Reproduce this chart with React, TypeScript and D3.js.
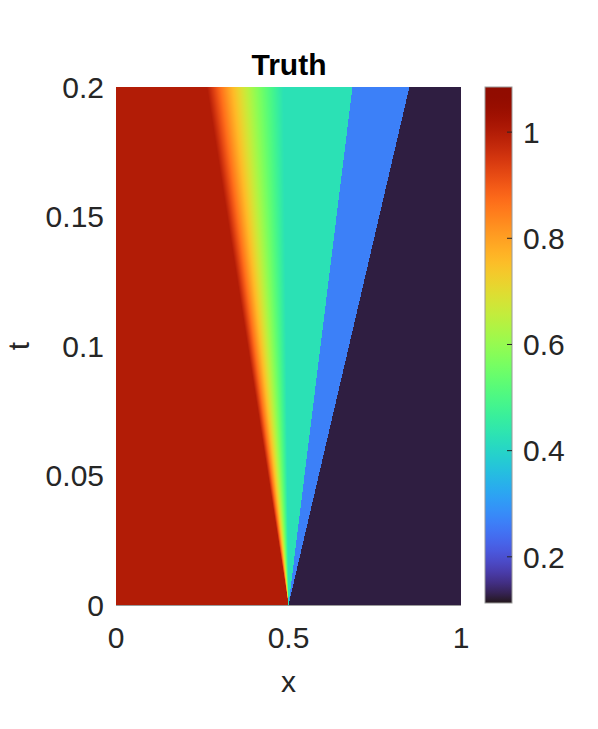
import React, { useMemo } from "react";
import * as d3 from "d3";

// Riemann problem (Sod)
const gammaGas = 1.4;
const leftState = [1.0, 0.0, 1.0]; // rho, u, p
const rightState = [0.125, 0.0, 0.1];
// wave speeds: rarefaction head, rarefaction tail, contact, shock
const waveSpeeds = [-1.1832, -0.0703, 0.9275, 1.7522];
// plateau densities: left, star-left, star-right, right
const plateauDensity = [1.0, 0.4263, 0.2656, 0.125];

const xDomain = [0, 1];
const tDomain = [0, 0.2];
const xTicks = [0, 0.5, 1];
const tTicks = [0, 0.05, 0.1, 0.15, 0.2];
const cbDomain = [0.113, 1.085];
const cbTicks = [0.2, 0.4, 0.6, 0.8, 1];

const NX = 345;
const NT = 518;

function density(x: number, t: number): number {
  const x0 = 0.5;
  if (t <= 0) return x < x0 ? leftState[0] : rightState[0];
  const xi = (x - x0) / t;
  if (xi < waveSpeeds[0]) return plateauDensity[0];
  if (xi < waveSpeeds[1]) {
    const g = gammaGas;
    const cL = Math.sqrt((g * leftState[2]) / leftState[0]);
    const c = (2 / (g + 1)) * cL + ((g - 1) / (g + 1)) * (leftState[1] - xi);
    return leftState[0] * Math.pow(c / cL, 2 / (g - 1));
  }
  if (xi < waveSpeeds[2]) return plateauDensity[1];
  if (xi < waveSpeeds[3]) return plateauDensity[2];
  return plateauDensity[3];
}

const FONT = "'Liberation Sans', Arial, Helvetica, sans-serif";

export default function App() {
  const W = 598, H = 729;
  const px0 = 116, px1 = 461, py0 = 87, py1 = 605;
  const cbx0 = 485, cbx1 = 512, cby0 = 87, cby1 = 603;

  const xs = d3.scaleLinear().domain(xDomain).range([px0, px1]);
  const ts = d3.scaleLinear().domain(tDomain).range([py1, py0]);
  const cs = d3.scaleLinear().domain(cbDomain).range([cby1, cby0]);
  const norm = d3.scaleLinear().domain(cbDomain).range([0, 1]).clamp(true);
  const color = (v: number) => d3.interpolateTurbo(norm(v));

  const cells = useMemo(() => {
    const out: { x: number; y: number; w: number; h: number; c: string }[] = [];
    const dx = (xDomain[1] - xDomain[0]) / NX;
    const dt = (tDomain[1] - tDomain[0]) / NT;
    for (let j = 0; j < NT; j++) {
      const t = tDomain[0] + (j + 0.5) * dt;
      let start = 0;
      let cur = color(density(xDomain[0] + 0.5 * dx, t));
      for (let i = 1; i <= NX; i++) {
        const c = i < NX ? color(density(xDomain[0] + (i + 0.5) * dx, t)) : "";
        if (c !== cur) {
          const xa = xs(xDomain[0] + start * dx);
          const xb = xs(xDomain[0] + i * dx);
          const ya = ts(tDomain[0] + (j + 1) * dt);
          const yb = ts(tDomain[0] + j * dt);
          out.push({ x: xa, y: ya, w: xb - xa, h: yb - ya, c: cur });
          start = i;
          cur = c;
        }
      }
    }
    return out;
  }, []);

  const cbStops = d3.range(0, 1.0001, 0.02);

  return (
    <svg width={W} height={H} style={{ position: "absolute", left: 0, top: 0 }} fontFamily={FONT}>
      <rect width={W} height={H} fill="#fff" />
      <defs>
        <linearGradient id="cbg" x1="0" y1="1" x2="0" y2="0">
          {cbStops.map((s, i) => (
            <stop key={i} offset={s} stopColor={d3.interpolateTurbo(s)} />
          ))}
        </linearGradient>
      </defs>
      <line x1={px0} x2={px1} y1={py1 + 0.5} y2={py1 + 0.5} stroke="#9a9a9a" strokeWidth={1} />
      <g shapeRendering="crispEdges">
        {cells.map((d, i) => (
          <rect key={i} x={d.x} y={d.y} width={d.w} height={d.h} fill={d.c} />
        ))}
      </g>
      {/* title */}
      <text x={(px0 + px1) / 2 + 0.5} y={75} textAnchor="middle" fontSize={30} fontWeight="bold" fill="#000">
        Truth
      </text>
      {/* y ticks */}
      {tTicks.map((v) => (
        <text key={v} x={104} y={ts(v)} dy="0.36em" textAnchor="end" fontSize={30} fill="#262626">
          {String(v)}
        </text>
      ))}
      {/* x ticks */}
      {xTicks.map((v) => (
        <text key={v} x={xs(v)} y={648} textAnchor="middle" fontSize={30} fill="#262626">
          {String(v)}
        </text>
      ))}
      <text x={(px0 + px1) / 2} y={692} textAnchor="middle" fontSize={30} fill="#262626">
        x
      </text>
      <text transform={`translate(29,${(py0 + py1) / 2}) rotate(-90)`} textAnchor="middle" fontSize={30} fill="#262626">
        t
      </text>
      {/* colorbar */}
      <rect x={cbx0} y={cby0} width={cbx1 - cbx0} height={cby1 - cby0} fill="url(#cbg)" stroke="#9a9a9a" strokeWidth={1} />
      {cbTicks.map((v) => (
        <g key={v}>
          <line x1={cbx1 - 5} x2={cbx1} y1={cs(v)} y2={cs(v)} stroke="#262626" strokeWidth={1} />
          <text x={523} y={cs(v)} dy="0.36em" fontSize={30} fill="#262626">
            {String(v)}
          </text>
        </g>
      ))}
    </svg>
  );
}
